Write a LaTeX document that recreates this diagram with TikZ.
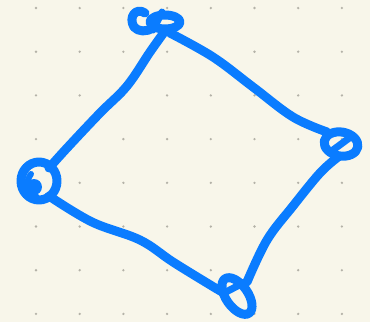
\documentclass[tikz,border=0pt]{standalone}
\definecolor{paper}{HTML}{F8F6EA}
\definecolor{griddot}{HTML}{B4B2A8}
\definecolor{inkblue}{HTML}{0A7CFF}
\begin{document}
\begin{tikzpicture}[x=1pt,y=-1pt,line cap=round,line join=round]
  \fill[paper] (0,0) rectangle (370,322);
  \useasboundingbox (0,0) rectangle (370,322);
  \foreach \i in {0,...,7}
    \foreach \j in {0,...,7}
      \fill[griddot] (36+43.7*\i,8+43.7*\j) circle (1.3);
  \coordinate (T) at (165,22);
  \coordinate (L) at (39,181);
  \coordinate (B) at (237,296);
  \coordinate (R) at (341,144);
  % corner loops
  \draw[inkblue,line width=9] (T) ellipse [x radius=15, y radius=7];
  \draw[inkblue,line width=9] (145,13) .. controls (136,7) and (128,17) .. (134,27)
    .. controls (138,32) and (147,32) .. (153,28);
  \draw[inkblue,line width=7] (162,12) -- (153,30);
  \draw[inkblue,line width=9] (L) ellipse [x radius=18, y radius=19];
  \fill[inkblue] (34,187) circle (8);
  \draw[inkblue,line width=6] (31,174) .. controls (25,182) and (27,193) .. (36,196);
  \draw[inkblue,line width=9,rotate around={-10:(R)}] (R) ellipse [x radius=17, y radius=12];
  \draw[inkblue,line width=7] (333,150) -- (352,136);
  \draw[inkblue,line width=9,rotate around={-55:(B)}] (B) ellipse [x radius=21, y radius=11];
  \draw[inkblue,line width=7] (226,292) -- (245,282);
  % sides
  \draw[inkblue,line width=9] plot[smooth,tension=0.6] coordinates
    {(165,31) (150,52) (127,86) (100,113) (67,148) (49,168)};
  \draw[inkblue,line width=9] plot[smooth,tension=0.6] coordinates
    {(170,33) (213,57) (253,87) (293,117) (327,132)};
  \draw[inkblue,line width=9] plot[smooth,tension=0.6] coordinates
    {(49,196) (92,222) (140,240) (173,262) (212,286) (224,293)};
  \draw[inkblue,line width=9] plot[smooth,tension=0.6] coordinates
    {(247,282) (267,240) (293,206) (320,173) (338,157)};
\end{tikzpicture}
\end{document}
